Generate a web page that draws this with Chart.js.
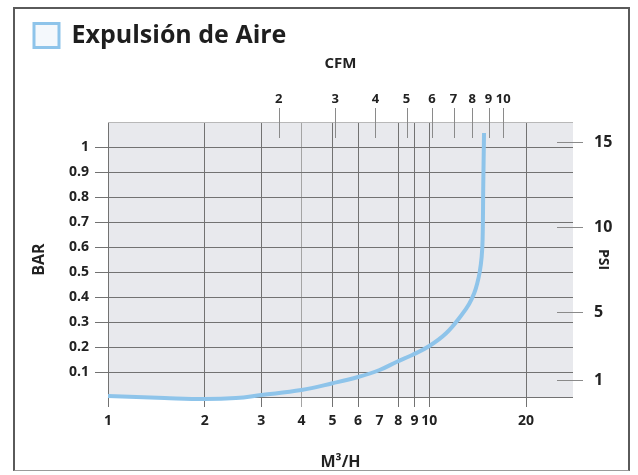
<!DOCTYPE html>
<html>
<head>
<meta charset="utf-8">
<script src="https://cdn.jsdelivr.net/npm/chart.js@4/dist/chart.umd.min.js"></script>
<style>
    html, body { margin: 0; padding: 0; background: #fff; }
    #wrap { position: relative; width: 638px; height: 475px; }
    #frame { position: absolute; left: 13px; top: 7px; width: 617px; height: 464px;
             border: 2px solid #5a5a5a; border-bottom: 1px solid #9a9a9a; box-sizing: border-box; }
    #grafico { position: absolute; left: 0; top: 0; }
</style>
</head>
<body>
<div id="wrap">
    <div id="frame"></div>
    <canvas id="grafico" width="638" height="475"></canvas>
</div>
<script>
// Caudal (m3/h) y presión (bar)
let flowM3h = [1, 1.5, 2, 2.5, 3, 4, 5, 6, 7, 7.9, 8.85, 10, 11.3, 12.6, 13.3, 13.8, 14.1, 14.35, 14.55, 14.65, 14.72, 14.8];
let pressureBar = [0.004, -0.004, -0.008, -0.004, 0.008, 0.028, 0.055, 0.08, 0.108, 0.14, 0.168, 0.204, 0.256, 0.328, 0.372, 0.416, 0.455, 0.5, 0.56, 0.63, 0.85, 1.056];

// Marcas de los ejes
let flowTicks = [1, 2, 3, 4, 5, 6, 7, 8, 9, 10, 20];
let cfmTicks = [2, 3, 4, 5, 6, 7, 8, 9, 10];
let barTicks = [0.1, 0.2, 0.3, 0.4, 0.5, 0.6, 0.7, 0.8, 0.9, 1];
let psiTicks = [1, 5, 10, 15];

const M3H_PER_CFM = 1.699;
const FLOW_MIN = 1;
const FLOW_MAX = 28;
const BAR_MAX = 1.1;
const PSI_MAX = 16.2;

const PAD_LEFT = 30;
const PAD_TOP = 19;
const PLOT_TOP = 122;

const FONT = '"Open Sans", Lato, sans-serif';
const GRID = '#727272';

// Fondo gris del área del gráfico
const plotBackground = {
    id: 'plotBackground',
    beforeDraw(chart) {
        const { ctx, chartArea: a } = chart;
        ctx.save();
        ctx.fillStyle = '#e8e9ed';
        ctx.fillRect(a.left, a.top, a.right - a.left, a.bottom - a.top);
        ctx.restore();
    }
};

// Marcas cortas de CFM y PSI que entran en el área del gráfico
const innerTicks = {
    id: 'innerTicks',
    beforeDatasetsDraw(chart) {
        const { ctx, chartArea: a, scales } = chart;
        ctx.save();
        ctx.lineWidth = 1;
        ctx.strokeStyle = '#8a8a8a';
        ctx.beginPath();
        for (let t of scales.x2.ticks) {
            let px = Math.round(scales.x2.getPixelForValue(t.value)) + 0.5;
            ctx.moveTo(px, a.top - 14);
            ctx.lineTo(px, a.top + 16);
        }
        for (let t of scales.y2.ticks) {
            let py = Math.round(scales.y2.getPixelForValue(t.value)) + 0.5;
            ctx.moveTo(a.right - 16, py);
            ctx.lineTo(a.right + 10, py);
        }
        ctx.stroke();
        ctx.restore();
    }
};

let legendLabels = chart => Chart.defaults.plugins.legend.labels.generateLabels(chart).map(l => {
    l.lineWidth = 3;
    l.fillStyle = '#f4f8fc';
    return l;
});

new Chart(document.getElementById('grafico'), {
    type: 'line',
    data: {
        datasets: [{
            label: 'Expulsión de Aire',
            data: flowM3h.map((x, i) => ({ x: x, y: pressureBar[i] })),
            borderColor: '#8ec4ea',
            backgroundColor: '#f4f8fc',
            borderWidth: 4,
            pointRadius: 0,
            tension: 0.4,
            clip: false,
            xAxisID: 'x',
            yAxisID: 'y'
        }]
    },
    options: {
        responsive: false,
        animation: false,
        layout: { padding: { left: PAD_LEFT, top: PAD_TOP, right: 0, bottom: 0 } },
        plugins: {
            tooltip: { enabled: false },
            legend: {
                align: 'start',
                labels: {
                    generateLabels: legendLabels,
                    boxWidth: 25,
                    boxHeight: 24,
                    padding: 4,
                    color: '#1e1e1e',
                    font: { family: FONT, size: 25, weight: 'bold' }
                }
            }
        },
        scales: {
            x: {
                type: 'logarithmic',
                position: 'bottom',
                min: FLOW_MIN,
                max: FLOW_MAX,
                afterBuildTicks: s => { s.ticks = flowTicks.map(v => ({ value: v })); },
                afterFit: s => { s.height = 78; },
                border: { display: false },
                grid: {
                    tickLength: 10,
                    color: c => c.tick && c.tick.value === 7 ? 'rgba(0,0,0,0)' : (c.tick && c.tick.value === 4 ? '#a4a4a4' : GRID)
                },
                ticks: {
                    autoSkip: false,
                    maxRotation: 0,
                    padding: 6,
                    color: '#222',
                    font: { family: FONT, size: 14, weight: 'bold' },
                    callback: v => String(v)
                },
                title: {
                    display: true,
                    text: 'M³/H',
                    color: '#222',
                    padding: { top: 0, bottom: 3 },
                    font: { family: FONT, size: 16, weight: 'bold' }
                }
            },
            x2: {
                type: 'logarithmic',
                position: 'top',
                min: FLOW_MIN / M3H_PER_CFM,
                max: FLOW_MAX / M3H_PER_CFM,
                afterBuildTicks: s => { s.ticks = cfmTicks.map(v => ({ value: v })); },
                afterFit: s => { s.height = PLOT_TOP - PAD_TOP - (s.chart.legend ? s.chart.legend.height : 0); },
                border: { display: false },
                grid: { display: false },
                ticks: {
                    autoSkip: false,
                    maxRotation: 0,
                    padding: 7,
                    color: '#222',
                    font: { family: FONT, size: 13, weight: 'bold' },
                    callback: v => String(v)
                },
                title: {
                    display: true,
                    text: 'CFM',
                    color: '#222',
                    padding: { top: -3, bottom: 0 },
                    font: { family: FONT, size: 15, weight: 'bold' }
                }
            },
            y: {
                position: 'left',
                min: 0,
                max: BAR_MAX,
                afterBuildTicks: s => { s.ticks = [0].concat(barTicks, [BAR_MAX]).map(v => ({ value: v })); },
                afterFit: s => { s.width = 108 - PAD_LEFT; },
                border: { display: false },
                grid: {
                    tickLength: 13,
                    color: c => c.tick && c.tick.value > 1.05 ? '#b8b8b8' : GRID,
                    tickColor: c => c.tick && (c.tick.value === 0 || c.tick.value > 1.05) ? 'rgba(0,0,0,0)' : GRID
                },
                ticks: {
                    autoSkip: false,
                    padding: 6,
                    color: '#222',
                    font: { family: FONT, size: 14, weight: 'bold' },
                    callback: v => (v === 0 || v > 1.05) ? '' : String(v)
                },
                title: {
                    display: true,
                    text: 'BAR',
                    color: '#222',
                    padding: { top: 0, bottom: 0 },
                    font: { family: FONT, size: 16, weight: 'bold' }
                }
            },
            y2: {
                position: 'right',
                min: 0,
                max: PSI_MAX,
                afterBuildTicks: s => { s.ticks = psiTicks.map(v => ({ value: v })); },
                afterFit: s => { s.width = 65; },
                border: { display: false },
                grid: { display: false },
                ticks: {
                    autoSkip: false,
                    padding: 13,
                    color: '#222',
                    font: { family: FONT, size: 16, weight: 'bold' },
                    callback: v => String(v)
                },
                title: {
                    display: true,
                    text: 'PSI',
                    color: '#222',
                    padding: { top: 27, bottom: 0 },
                    font: { family: FONT, size: 14, weight: 'bold' }
                }
            }
        }
    },
    plugins: [plotBackground, innerTicks]
});
</script>
</body>
</html>
